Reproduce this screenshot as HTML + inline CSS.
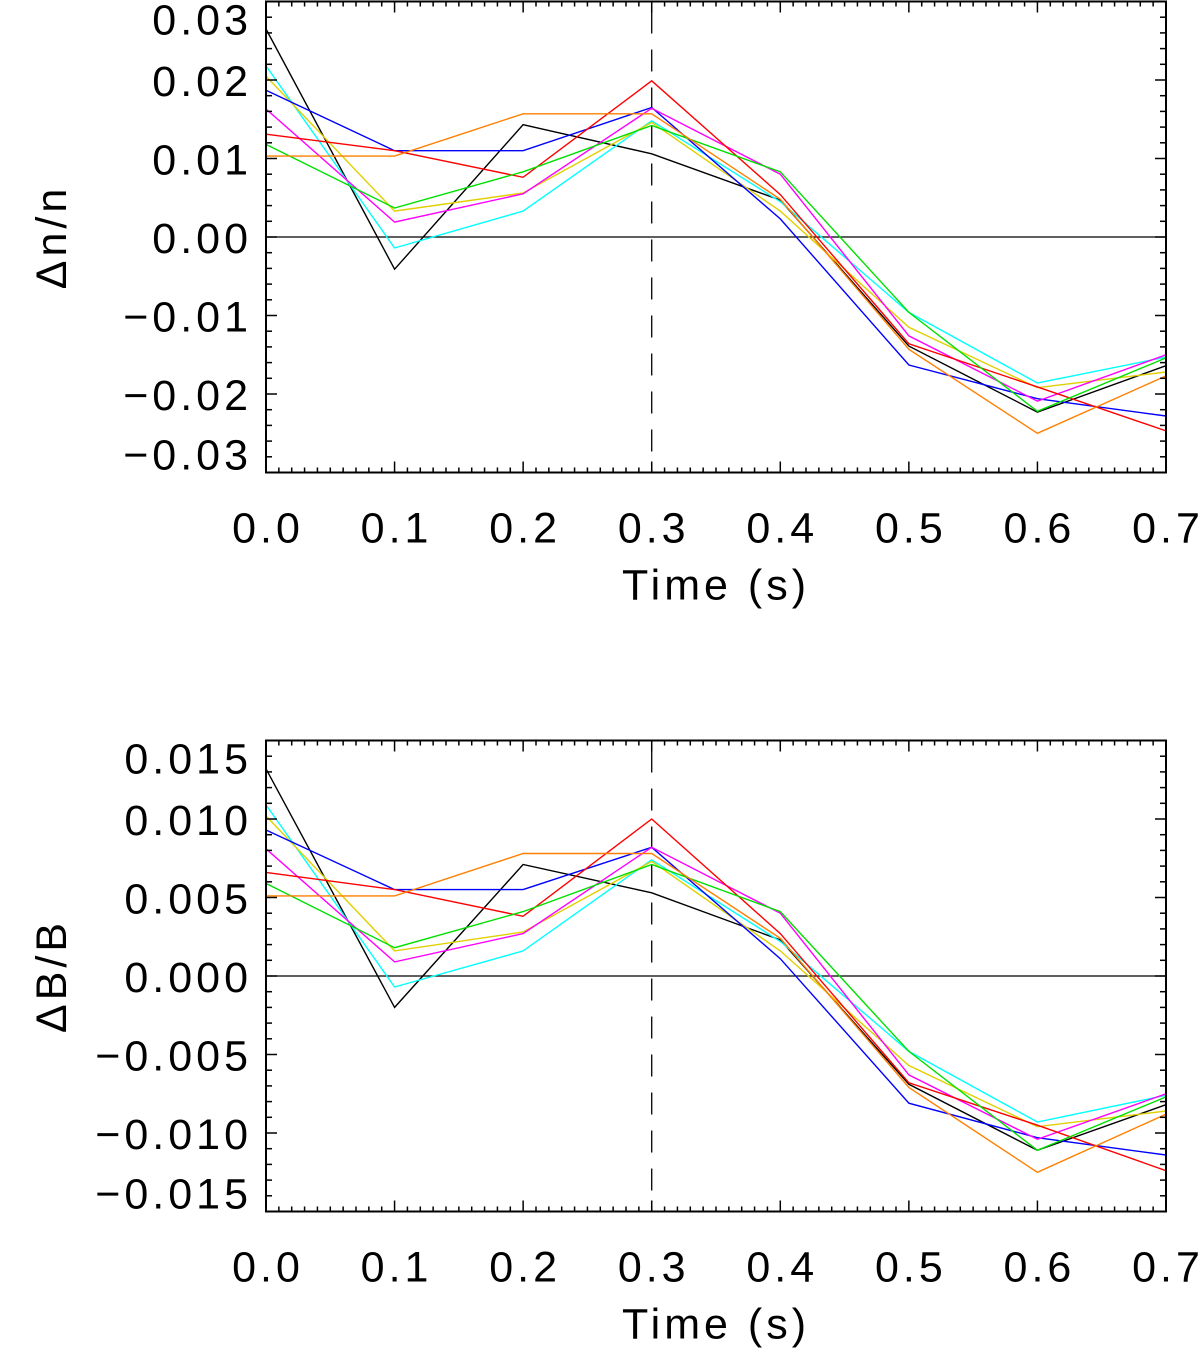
<!DOCTYPE html>
<html><head><meta charset="utf-8">
<style>
html,body{margin:0;padding:0;background:#fff;}
svg{display:block;}
text{font-family:"Liberation Sans",sans-serif;fill:#000;letter-spacing:4px;}
</style></head>
<body>
<svg id="chart" width="1200" height="1350" viewBox="0 0 1200 1350" xmlns="http://www.w3.org/2000/svg"></svg>
<script>
const times = [0.0,0.1,0.2,0.3,0.4,0.5,0.6,0.7];
const seriesNames = ["black","cyan","yellow","blue","magenta","red","green","orange"];
const seriesColors = ["#000000","#00ffff","#e0d000","#0000ff","#ff00ff","#ff0000","#00e000","#ff8000"];
const dnBlack   = [0.0265,-0.0041,0.0143,0.0106,0.0047,-0.0139,-0.0223,-0.0164];
const dnCyan    = [0.0218,-0.0014,0.0033,0.0148,0.0045,-0.0096,-0.0186,-0.0153];
const dnYellow  = [0.0205,0.0033,0.0056,0.0146,0.0033,-0.0115,-0.0192,-0.0172];
const dnBlue    = [0.0187,0.0110,0.0110,0.0165,0.0023,-0.0163,-0.0206,-0.0228];
const dnMagenta = [0.0163,0.0019,0.0055,0.0164,0.0080,-0.0126,-0.0209,-0.0150];
const dnRed     = [0.0131,0.0110,0.0076,0.0199,0.0054,-0.0136,-0.0191,-0.0247];
const dnGreen   = [0.0118,0.0037,0.0083,0.0142,0.0083,-0.0096,-0.0222,-0.0154];
const dnOrange  = [0.0103,0.0103,0.0157,0.0157,0.0048,-0.0143,-0.0250,-0.0177];
const dbBlack   = [0.0132,-0.0020,0.0071,0.0053,0.0023,-0.0069,-0.0111,-0.0082];
const dbCyan    = [0.0109,-0.0007,0.0016,0.0074,0.0022,-0.0048,-0.0093,-0.0076];
const dbYellow  = [0.0102,0.0016,0.0028,0.0073,0.0016,-0.0057,-0.0096,-0.0086];
const dbBlue    = [0.0093,0.0055,0.0055,0.0082,0.0011,-0.0081,-0.0103,-0.0114];
const dbMagenta = [0.0081,0.0009,0.0027,0.0082,0.0040,-0.0063,-0.0104,-0.0075];
const dbRed     = [0.0066,0.0055,0.0038,0.0100,0.0027,-0.0068,-0.0095,-0.0124];
const dbGreen   = [0.0059,0.0018,0.0041,0.0071,0.0041,-0.0048,-0.0111,-0.0077];
const dbOrange  = [0.0051,0.0051,0.0078,0.0078,0.0024,-0.0071,-0.0125,-0.0088];
const xTicks = ["0.0","0.1","0.2","0.3","0.4","0.5","0.6","0.7"];
const topYTicks = [0.03,0.02,0.01,0.00,-0.01,-0.02,-0.03];
const topYLabels = ["0.03","0.02","0.01","0.00","\u22120.01","\u22120.02","\u22120.03"];
const botYTicks = [0.015,0.010,0.005,0.000,-0.005,-0.010,-0.015];
const botYLabels = ["0.015","0.010","0.005","0.000","\u22120.005","\u22120.010","\u22120.015"];

const NS="http://www.w3.org/2000/svg";
const svg=document.getElementById('chart');
function mk(tag,attrs,parent){const e=document.createElementNS(NS,tag);for(const k in attrs)e.setAttribute(k,attrs[k]);(parent||svg).appendChild(e);return e;}

function panel(opts){
  const L=266,R=1166,T=opts.top,B=opts.top+471;
  const ymax=opts.ymax;
  const xs=t=>L+(t/0.7)*(R-L);
  const ys=v=>T+(ymax-v)/(2*ymax)*(B-T);
  const g=mk('g',{});
  
  
  const z=mk('line',{x1:L,x2:R,y1:ys(0),y2:ys(0),stroke:'#000','stroke-width':1.3},g);
  
  
  const d=mk('line',{x1:xs(0.3),x2:xs(0.3),y1:T,y2:B,stroke:'#000','stroke-width':1.3,'stroke-dasharray':'22,16','stroke-dashoffset':'-10'},g);
  
  
  opts.data.forEach((arr,i)=>{
    const p=mk('polyline',{points:arr.map((v,j)=>xs(times[j]).toFixed(1)+','+ys(v).toFixed(1)).join(' '),fill:'none',stroke:seriesColors[i],'stroke-width':1.4},g);
    
    
  });
  const f=mk('rect',{x:L,y:T,width:R-L,height:B-T,fill:'none',stroke:'#000','stroke-width':2},g);
  
  
  for(let k=0;k<=70;k++){
    const x=xs(k/100), len=(k%10===0)?11:5;
    mk('line',{x1:x,x2:x,y1:B,y2:B-len,stroke:'#000','stroke-width':1.5},g);
    mk('line',{x1:x,x2:x,y1:T,y2:T+len,stroke:'#000','stroke-width':1.5},g);
  }
  const minor=opts.minor;
  const n=Math.round(2*ymax/minor);
  for(let k=0;k<=n;k++){
    const v=-ymax+k*minor, y=ys(v), len=(k%5===0)?11:6;
    mk('line',{x1:L,x2:L+len,y1:y,y2:y,stroke:'#000','stroke-width':1.5},g);
    mk('line',{x1:R,x2:R-len,y1:y,y2:y,stroke:'#000','stroke-width':1.5},g);
  }
  xTicks.forEach((s,i)=>{
    const t=mk('text',{x:xs(times[i])+2,y:B+70,'font-size':43,'text-anchor':'middle'},g);
    t.textContent=s;
    
    
  });
  opts.yt.forEach((v,i)=>{
    let y=ys(v)+16;
    if(i===0) y=ys(v)+33;
    if(i===opts.yt.length-1) y=ys(v)-3;
    const t=mk('text',{x:252,y:y,'font-size':43,'text-anchor':'end'},g);
    t.textContent=opts.yl[i];
    
    
  });
  const xt=mk('text',{x:716,y:B+127,'font-size':43,'text-anchor':'middle'},g);
  xt.textContent='Time (s)';
  
  
  const cy=ys(0);
  const yt=mk('text',{x:0,y:0,'font-size':43,'text-anchor':'middle',transform:'translate(66,'+cy+') rotate(-90)'},g);
  yt.textContent=opts.ytitle;
  
  
}
panel({name:'density-panel',top:1.5,ymax:0.03,minor:0.002,yt:topYTicks,yl:topYLabels,ytitle:'\u0394n/n',
  data:[dnBlack,dnCyan,dnYellow,dnBlue,dnMagenta,dnRed,dnGreen,dnOrange]});
panel({name:'field-panel',top:740.5,ymax:0.015,minor:0.001,yt:botYTicks,yl:botYLabels,ytitle:'\u0394B/B',
  data:[dbBlack,dbCyan,dbYellow,dbBlue,dbMagenta,dbRed,dbGreen,dbOrange]});
</script>
</body></html>
